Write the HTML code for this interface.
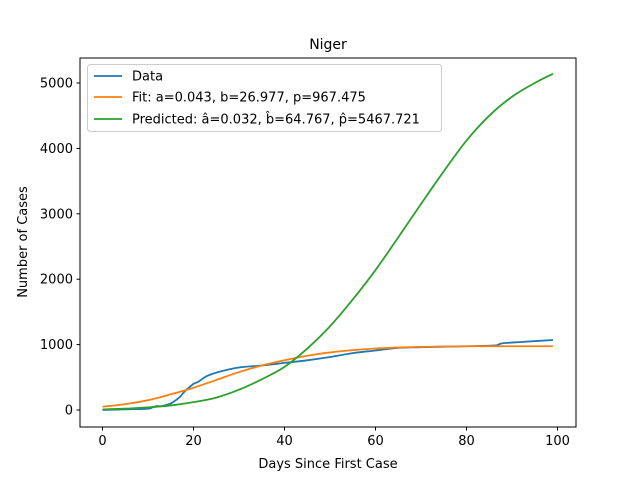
<!DOCTYPE html>
<html><head><meta charset="utf-8"><style>
body{margin:0;background:#fff}
svg{font-family:"DejaVu Sans","Liberation Sans",sans-serif}
</style></head><body>
<svg id="chart" width="640" height="480">
<rect x="0" y="0" width="640" height="480" fill="#fff"/>
<text x="328" y="49" text-anchor="middle" font-size="14">Niger</text>
<g id="xt"></g>
<g id="yt"></g>
<g id="series"></g>
<rect x="80" y="58" width="496" height="369" fill="none" stroke="#000" stroke-width="1"/>
<text x="328" y="468" text-anchor="middle" font-size="13">Days Since First Case</text>
<text x="27" y="242" text-anchor="middle" font-size="13" transform="rotate(-90 27 242)">Number of Cases</text>
<g>
<rect x="87.5" y="64.5" width="354" height="67" rx="3" fill="#fff" fill-opacity="0.8" stroke="#ccc"/>
<line x1="94" y1="76" x2="122" y2="76" stroke="#1f77b4" stroke-width="1.8"/>
<text x="132" y="80.5" font-size="13">Data</text>
<line x1="94" y1="97" x2="122" y2="97" stroke="#ff7f0e" stroke-width="1.8"/>
<text x="132" y="101.5" font-size="13">Fit: a=0.043, b=26.977, p=967.475</text>
<line x1="94" y1="119" x2="122" y2="119" stroke="#2ca02c" stroke-width="1.8"/>
<text x="132" y="123.5" font-size="13">Predicted: â=0.032, b̂=64.767, p̂=5467.721</text>
</g>
</svg>
<script>
const xTicks=[0,20,40,60,80,100];
const yTicks=[0,1000,2000,3000,4000,5000];
const dataX=[0,5,10,11,12,13,15,17,18,20,21,23,26,30,35,40,45,50,55,60,65,70,80,86,87,88,92,99];
const dataY=[0,10,20,40,60,60,100,200,280,400,430,520,590,650,680,720,760,810,870,910,950,960,975,985,1000,1020,1040,1070];
const fitX=[0,5,10,15,20,25,30,35,40,45,50,55,60,65,70,80,90,99];
const fitY=[50,90,150,240,340,460,580,680,760,830,880,915,940,955,965,975,975,975];
const predX=[0,5,10,15,20,25,30,35,40,45,50,55,60,65,70,75,80,85,90,95,99];
const predY=[10,20,40,70,120,190,310,470,660,940,1280,1690,2140,2640,3150,3650,4120,4500,4790,5000,5140];
const NS="http://www.w3.org/2000/svg";
const X=v=>102.5+v*4.55;
const Y=v=>410-v*0.0654;
const xt=document.getElementById('xt'),yt=document.getElementById('yt'),sg=document.getElementById('series');
function mk(t,a,p){const e=document.createElementNS(NS,t);for(const k in a)e.setAttribute(k,a[k]);p.appendChild(e);return e;}
xTicks.forEach(v=>{
 const l=mk('line',{x1:X(v),x2:X(v),y1:427,y2:430.5,stroke:'#000'},xt);
 
 
 const t=mk('text',{x:X(v),y:445,'text-anchor':'middle','font-size':13},xt);t.textContent=v;
 
 
});
yTicks.forEach(v=>{
 const l=mk('line',{x1:76.5,x2:80,y1:Y(v),y2:Y(v),stroke:'#000'},yt);
 
 
 const t=mk('text',{x:73,y:Y(v)+4.5,'text-anchor':'end','font-size':13},yt);t.textContent=v;
 
 
});
function line(xs,ys,c,name){
 const P=xs.map((x,i)=>[X(x),Y(ys[i])]);
 let d='M'+P[0][0]+','+P[0][1];
 for(let i=0;i<P.length-1;i++){
  const p0=P[i-1]||P[i],p1=P[i],p2=P[i+1],p3=P[i+2]||P[i+1];
  const c1=[p1[0]+(p2[0]-p0[0])/6,p1[1]+(p2[1]-p0[1])/6];
  const c2=[p2[0]-(p3[0]-p1[0])/6,p2[1]-(p3[1]-p1[1])/6];
  d+=' C'+c1+' '+c2+' '+p2;
 }
 const p=mk('path',{d:d,fill:'none',stroke:c,'stroke-width':1.8,'stroke-linejoin':'round'},sg);
 
 
}
line(dataX,dataY,'#1f77b4','data-line');
line(fitX,fitY,'#ff7f0e','fit-line');
line(predX,predY,'#2ca02c','predicted-line');
</script>
</body></html>
